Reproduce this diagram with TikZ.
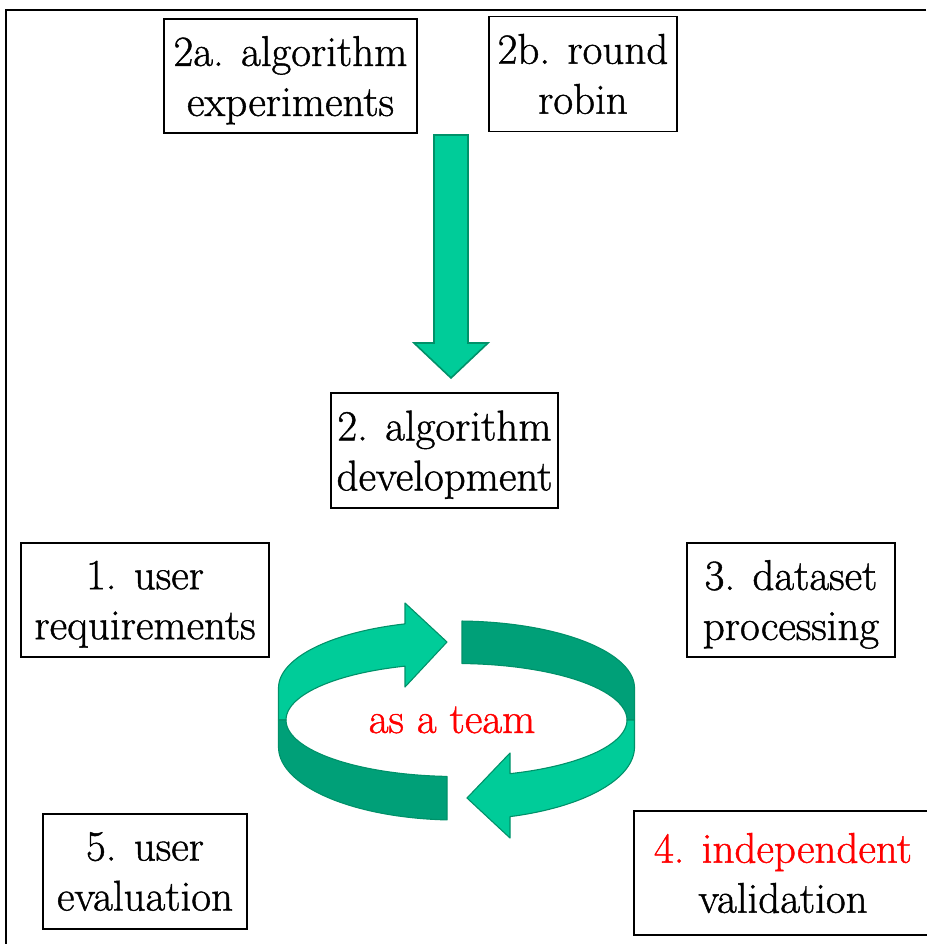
\documentclass[tikz,border=0pt]{standalone}
\usepackage{fontspec}
\setmainfont{Latin Modern Roman}[FakeBold=1]
\newfontfamily\boxfont{Latin Modern Roman}[FakeBold=1]
\definecolor{lightg}{RGB}{0,204,153}
\definecolor{darkg}{RGB}{0,160,120}
\definecolor{edgeg}{RGB}{0,145,105}
\definecolor{txtred}{RGB}{255,0,0}
\begin{document}
\begin{tikzpicture}[x=1pt,y=-1pt,
  box/.style={draw=black, line width=1.3pt, align=center, inner sep=0pt,
    font=\boxfont\fontsize{43}{50}\selectfont},
  ribbon/.style={draw=edgeg, line width=1.1pt, line join=round},
  blockarrow/.style={fill=lightg, draw=edgeg, line width=1.6pt, line join=miter}]
\useasboundingbox (0,0) rectangle (926,944);
% frame
\draw[line width=2pt] (926,10) -- (5.5,10) -- (5.5,944);
% boxes
\node[box, minimum width=253pt, minimum height=114pt] (n2a) at (290.5,76) {2a. algorithm\\\smash{experiments}};
\node[box, minimum width=188pt, minimum height=115pt] (n2b) at (583,74) {2b. round\\robin};
\node[box, minimum width=227pt, minimum height=115pt] (n2) at (444.5,450.5) {2. algorithm\\\smash{development}};
\node[box, minimum width=248pt, minimum height=114pt] (n1) at (145,600) {1. user\\\smash{requirements}};
\node[box, minimum width=208pt, minimum height=114pt] (n3) at (791,600) {3. dataset\\\smash{processing}};
\node[box, minimum width=204pt, minimum height=115pt] (n5) at (145,871.5) {5. user\\evaluation};
\node[box, line width=2.4pt, minimum width=298pt, minimum height=124pt] (n4) at (783,873) {\textcolor{txtred}{4. independent}\\validation};
% down block arrow
\coordinate (dtip) at (451,378);
\draw[blockarrow] (434,135) -- (468,135) -- (468,343) -- (488,343) -- (dtip) -- (414,343) -- (434,343) -- cycle;
% circular ribbon arrow: back surfaces
\filldraw[ribbon, fill=lightg] (278.5,720) -- (278.5,688)
  -- plot[domain=180:106.82, samples=40, smooth] ({456.5+178*cos(\x)}, {688-67*sin(\x)})
  -- (405,603) -- (447,642) -- (405,687)
  -- plot[domain=107.58:180, samples=40, smooth] ({456.5+170.5*cos(\x)}, {720-56.5*sin(\x)})
  -- cycle;
\filldraw[ribbon, fill=darkg]
  plot[domain=88.23:0, samples=40, smooth] ({456.5+178*cos(\x)}, {688-67*sin(\x)})
  -- (634.5,720) -- (627,720)
  -- plot[domain=0:88.15, samples=40, smooth] ({456.5+170.5*cos(\x)}, {720-56.5*sin(\x)})
  -- cycle;
% front surfaces
\filldraw[ribbon, fill=darkg]
  plot[domain=93.19:180, samples=40, smooth] ({456.5+170.5*cos(\x)}, {720+56.5*sin(\x)})
  -- (278.5,720) -- (278.5,747)
  -- plot[domain=180:93.06, samples=40, smooth] ({456.5+178*cos(\x)}, {747+73*sin(\x)})
  -- cycle;
\filldraw[ribbon, fill=lightg]
  plot[domain=0:71.71, samples=40, smooth] ({456.5+170.5*cos(\x)}, {720+56.5*sin(\x)})
  -- (510,753) -- (467,798) -- (510,838)
  -- plot[domain=72.51:0, samples=40, smooth] ({456.5+178*cos(\x)}, {747+73*sin(\x)})
  -- (634.5,720) -- cycle;
\node[anchor=base, text=txtred, font=\boxfont\fontsize{43}{50}\selectfont, inner sep=0pt] (team) at (452,733) {as a team};
\end{tikzpicture}
\end{document}
